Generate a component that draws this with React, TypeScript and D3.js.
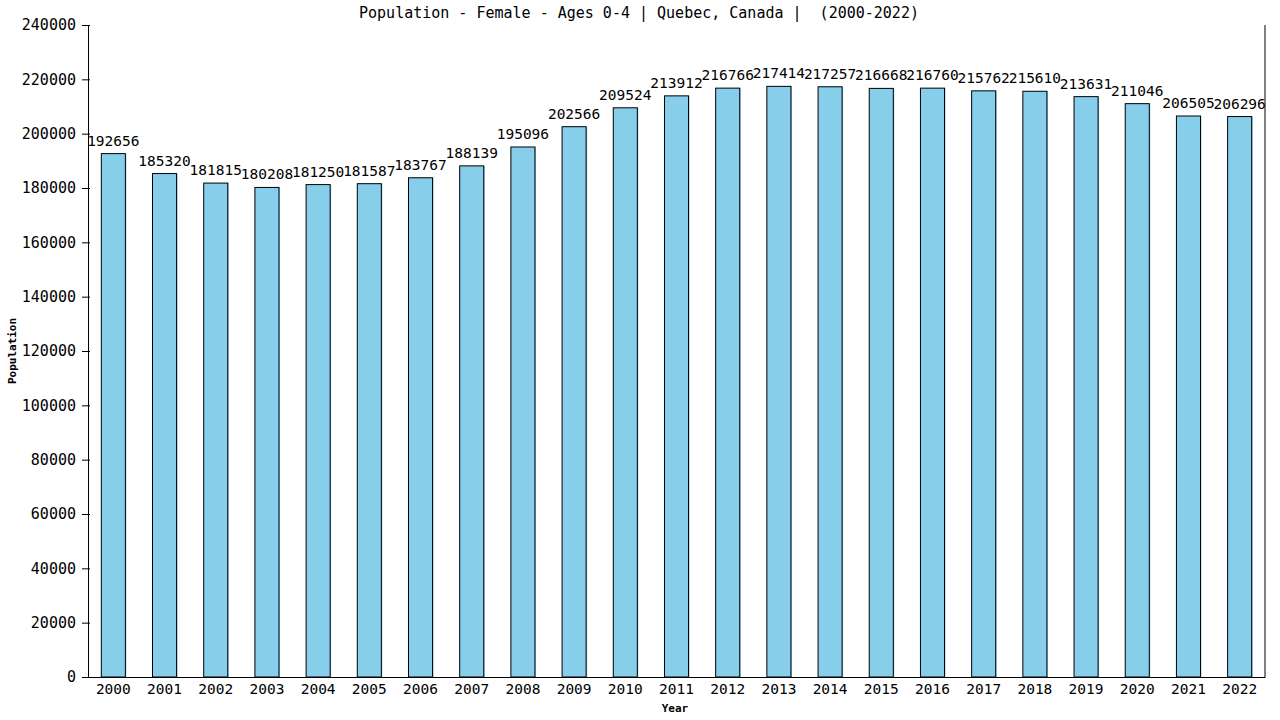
import * as d3 from 'd3'
import { useEffect, useRef } from 'react'

const years = [
  '2000', '2001', '2002', '2003', '2004', '2005', '2006', '2007', '2008', '2009', '2010', '2011',
  '2012', '2013', '2014', '2015', '2016', '2017', '2018', '2019', '2020', '2021', '2022',
]
const population = [
  192656, 185320, 181815, 180208, 181250, 181587, 183767, 188139, 195096, 202566, 209524, 213912,
  216766, 217414, 217257, 216668, 216760, 215762, 215610, 213631, 211046, 206505, 206296,
]
const yTicks = [0, 20000, 40000, 60000, 80000, 100000, 120000, 140000, 160000, 180000, 200000, 220000, 240000]

const width = 1280
const height = 720
const marginTop = 25
const marginRight = 15
const marginBottom = 43
const marginLeft = 88
const font = '"DejaVu Sans Mono", monospace'

export default function App() {
  const gx = useRef<SVGGElement>(null)
  const gy = useRef<SVGGElement>(null)

  // x axis function
  const x = d3.scaleBand(years, [marginLeft, width - marginRight]).paddingInner(0.53).paddingOuter(0.26)

  // y axis function
  const y = d3.scaleLinear([0, 240000], [height - marginBottom, marginTop])

  useEffect(() => {
    const ax = d3.select(gx.current)
    ax.call(d3.axisBottom(x).tickSize(0).tickPadding(7) as any)
    ax.select('.domain').attr('stroke', '#000')
    ax.selectAll('text').attr('font-family', font).attr('font-size', 14.5).attr('fill', '#000')
  }, [x])

  useEffect(() => {
    const ay = d3.select(gy.current)
    ay.call(d3.axisLeft(y).tickValues(yTicks).tickFormat(d3.format('d')).tickSize(6).tickSizeOuter(0).tickPadding(6) as any)
    ay.select('.domain').attr('stroke', '#000')
    ay.selectAll('.tick line').attr('stroke', '#000').attr('x2', -6).attr('x1', 2)
    ay.selectAll('text').attr('font-family', font).attr('font-size', 15).attr('fill', '#000')
  }, [y])

  return (
    <svg width={width} height={height} style={{ position: 'absolute', left: 0, top: 0, background: '#fff' }}>
      <text x={639} y={18} textAnchor="middle" fontFamily={font} fontSize={15} style={{ whiteSpace: 'pre' }}>
        {'Population - Female - Ages 0-4 | Quebec, Canada |  (2000-2022)'}
      </text>
      <g>
        {population.map((v, i) => (
          <g key={years[i]}>
            <rect x={x(years[i])! + 1} y={y(v)} width={x.bandwidth()} height={y(0) - y(v)} fill="#87ceeb" />
            <rect
              x={x(years[i])!}
              y={y(v)}
              width={x.bandwidth()}
              height={y(0) - y(v)}
              fill="#87ceeb"
              stroke="#000"
              strokeWidth={1}
            />
            <text
              x={x(years[i])! + x.bandwidth() / 2}
              y={y(v) - 8}
              textAnchor="middle"
              fontFamily={font}
              fontSize={14.5}
            >
              {v}
            </text>
          </g>
        ))}
      </g>
      <line x1={width - marginRight} x2={width - marginRight} y1={marginTop} y2={height - marginBottom} stroke="#000" />
      <g ref={gx} transform={`translate(0,${height - marginBottom})`} />
      <g ref={gy} transform={`translate(${marginLeft},0)`} />
      <text x={675} y={712} textAnchor="middle" fontFamily={font} fontSize={11} fontWeight="bold">
        Year
      </text>
      <text
        transform={`translate(16,${(marginTop + height - marginBottom) / 2}) rotate(-90)`}
        textAnchor="middle"
        fontFamily={font}
        fontSize={11}
        fontWeight="bold"
      >
        Population
      </text>
    </svg>
  )
}
